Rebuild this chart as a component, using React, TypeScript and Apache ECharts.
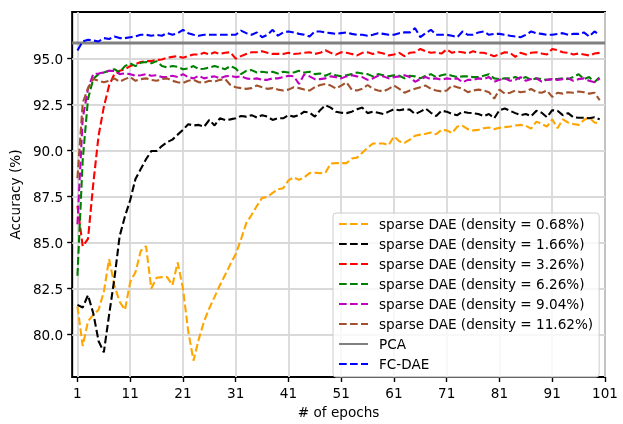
import React, { useEffect, useRef } from "react";
import * as echarts from "echarts";

const epochs: number[] = Array.from({ length: 100 }, (_, i) => i + 1);
const xTicks = [1, 11, 21, 31, 41, 51, 61, 71, 81, 91, 101];
const yTicks = [80, 82.5, 85, 87.5, 90, 92.5, 95];
const pcaAccuracy = 95.85;

const density068 = [
  81.52, 79.38, 80.72, 81.07, 81.34, 82.32, 84.1, 82.68, 81.78, 81.34,
  82.85, 83.39, 84.55, 84.81, 82.5, 83.09, 83.12, 83.12, 82.68, 83.92,
  82.5, 80.18, 78.58, 79.75, 80.72, 81.43, 82.05, 82.68, 83.25, 83.83,
  84.37, 85.17, 86.06, 86.5, 86.99, 87.43, 87.48, 87.7, 87.9, 87.96,
  88.38, 88.55, 88.41, 88.55, 88.78, 88.8, 88.78, 88.8, 89.3, 89.32,
  89.32, 89.32, 89.57, 89.62, 89.89, 90.16, 90.39, 90.39, 90.39, 90.3,
  90.78, 90.51, 90.42, 90.6, 90.81, 90.87, 90.92, 90.99, 90.89, 91.13,
  91.1, 90.96, 91.31, 91.35, 91.17, 91.1, 91.13, 91.22, 91.26, 91.17,
  91.24, 91.28, 91.31, 91.37, 91.4, 91.35, 91.2, 91.58, 91.45, 91.31,
  91.7, 91.22, 91.7, 91.53, 91.45, 91.4, 91.67, 91.81, 91.53, 91.49,
];
const density166 = [
  81.61, 81.47, 82.14, 81.16, 79.65, 79.03, 81.07, 83.03, 85.35, 86.42,
  87.31, 88.46, 89.0, 89.53, 89.98, 89.98, 90.25, 90.46, 90.6, 90.87,
  91.13, 91.44, 91.37, 91.4, 91.3, 91.67, 91.37, 91.76, 91.67, 91.7,
  91.76, 91.88, 91.85, 91.93, 91.8, 91.93, 91.85, 91.67, 91.76, 91.76,
  91.93, 91.85, 91.93, 92.12, 92.07, 91.85, 92.2, 92.47, 92.34, 92.12,
  92.06, 92.04, 92.12, 92.25, 92.34, 92.04, 92.12, 92.06, 91.99, 92.12,
  92.25, 92.2, 92.25, 92.23, 91.99, 92.12, 92.29, 92.06, 91.88, 92.17,
  92.12, 91.99, 91.93, 92.12, 92.06, 92.04, 91.99, 91.88, 91.99, 91.76,
  92.2, 92.29, 92.17, 92.04, 91.93, 91.99, 91.88, 92.17, 92.06, 91.82,
  92.2, 92.17, 91.93, 92.04, 91.82, 91.79, 91.79, 91.76, 91.82, 91.7,
];
const density326 = [
  87.0, 84.8, 85.2, 88.2, 90.8, 92.38, 93.54, 94.16, 94.34, 94.43,
  94.6, 94.7, 94.82, 94.87, 94.87, 94.93, 94.96, 95.05, 95.1, 95.14,
  95.05, 95.14, 95.23, 95.23, 95.32, 95.23, 95.35, 95.26, 95.32, 95.35,
  95.0, 95.14, 95.26, 95.35, 95.35, 95.41, 95.32, 95.26, 95.26, 95.26,
  95.32, 95.26, 95.28, 95.32, 95.35, 95.26, 95.32, 95.46, 95.32, 95.22,
  95.35, 95.32, 95.26, 95.18, 95.32, 95.35, 95.26, 95.35, 95.28, 95.18,
  95.23, 95.32, 95.14, 95.32, 95.35, 95.53, 95.41, 95.32, 95.35, 95.28,
  95.5, 95.32, 95.39, 95.35, 95.28, 95.41, 95.32, 95.32, 95.23, 95.14,
  95.23, 95.35, 95.32, 95.1, 95.32, 95.23, 95.32, 95.35, 95.28, 95.23,
  95.53, 95.46, 95.35, 95.32, 95.23, 95.28, 95.23, 95.18, 95.28, 95.32,
];
const density626 = [
  83.2, 89.5, 92.8, 93.9, 94.16, 94.25, 94.34, 94.43, 94.25, 94.6,
  94.75, 94.6, 94.78, 94.82, 94.75, 94.87, 94.6, 94.52, 94.6, 94.56,
  94.43, 94.47, 94.6, 94.43, 94.45, 94.52, 94.6, 94.52, 94.43, 94.6,
  94.47, 94.16, 94.34, 94.38, 94.25, 94.29, 94.25, 94.29, 94.2, 94.29,
  94.25, 94.25, 94.34, 94.25, 94.29, 94.16, 94.2, 94.07, 94.2, 94.1,
  94.04, 94.1, 94.16, 94.25, 94.2, 94.16, 94.04, 94.16, 94.1, 94.04,
  94.1, 94.07, 93.93, 94.07, 94.04, 93.93, 94.07, 94.16, 94.0, 94.1,
  94.16, 94.07, 94.0, 94.04, 94.04, 94.0, 94.0, 94.07, 94.16, 93.93,
  93.89, 93.93, 93.93, 94.0, 93.89, 94.0, 93.85, 93.93, 93.89, 93.85,
  93.89, 93.89, 93.93, 93.89, 94.0, 94.16, 93.89, 94.0, 93.72, 94.0,
];
const density904 = [
  86.0, 91.76, 93.36, 94.16, 94.2, 94.25, 94.34, 94.34, 94.16, 94.2,
  94.16, 94.07, 94.1, 94.16, 94.07, 94.1, 94.0, 94.0, 94.07, 94.0,
  94.16, 94.0, 93.93, 94.07, 93.93, 94.0, 94.04, 93.93, 94.04, 94.07,
  94.0, 94.04, 93.93, 93.89, 93.93, 93.85, 93.85, 93.93, 93.93, 94.0,
  94.07, 94.04, 93.63, 94.16, 94.04, 93.89, 93.89, 93.93, 94.04, 94.0,
  93.93, 94.04, 94.1, 94.04, 94.0, 93.85, 93.93, 94.07, 94.04, 93.93,
  94.0, 94.04, 94.1, 94.0, 93.75, 93.89, 94.0, 93.89, 93.93, 93.85,
  93.93, 93.89, 93.93, 93.72, 93.85, 93.85, 93.93, 93.89, 94.0, 93.75,
  93.85, 93.93, 93.8, 93.85, 94.0, 93.8, 93.89, 93.93, 93.75, 93.85,
  93.89, 93.85, 93.89, 93.93, 93.8, 93.89, 93.93, 93.8, 93.72, 93.93,
];
const density1162 = [
  88.5, 92.6, 93.4, 93.9, 93.8, 93.72, 93.8, 93.93, 93.75, 93.89,
  94.0, 93.8, 93.89, 93.93, 93.85, 93.8, 93.89, 93.93, 93.8, 93.72,
  93.68, 93.8, 93.85, 93.72, 93.7, 93.8, 93.75, 93.85, 93.89, 93.57,
  93.45, 93.4, 93.36, 93.4, 93.54, 93.45, 93.36, 93.4, 93.32, 93.27,
  93.32, 93.45, 93.4, 93.32, 93.27, 93.45, 93.57, 93.63, 93.54, 93.38,
  93.54, 93.72, 93.32, 93.27, 93.36, 93.57, 93.36, 93.27, 93.22, 93.36,
  93.54, 93.36, 93.15, 93.27, 93.36, 93.45, 93.54, 93.36, 93.27, 93.22,
  93.27, 93.54, 93.45, 93.36, 93.18, 93.27, 93.32, 93.27, 93.18, 92.83,
  93.32, 93.1, 93.15, 93.27, 93.18, 93.22, 93.36, 93.18, 93.15, 93.27,
  92.92, 93.15, 93.1, 93.18, 93.15, 93.22, 93.18, 93.1, 93.15, 92.74,
];
const fcDae = [
  95.45, 95.94, 96.03, 95.99, 95.94, 96.12, 96.07, 96.21, 96.12, 96.12,
  96.17, 96.21, 96.3, 96.3, 96.25, 96.3, 96.25, 96.39, 96.3, 96.39,
  96.57, 96.39, 96.3, 96.25, 96.3, 96.3, 96.3, 96.3, 96.3, 96.3,
  96.3, 96.53, 96.39, 96.3, 96.43, 96.17, 96.3, 96.57, 96.25, 96.43,
  96.48, 96.43, 96.35, 96.3, 96.21, 96.48, 96.48, 96.43, 96.39, 96.35,
  96.39, 96.43, 96.35, 96.3, 96.3, 96.25, 96.3, 96.39, 96.35, 96.3,
  96.3, 96.39, 96.43, 96.43, 96.66, 96.17, 96.39, 96.57, 96.3, 96.3,
  96.3, 96.25, 96.17, 96.48, 96.3, 96.3, 96.43, 96.48, 96.3, 96.35,
  96.35, 96.3, 96.25, 96.21, 96.17, 96.3, 96.48, 96.39, 96.35, 96.3,
  96.3, 96.35, 96.39, 96.3, 96.35, 96.35, 96.43, 96.21, 96.48, 96.3,
];

const FONT = "DejaVu Sans";
const FS = 13.6;

const dashedDefs = [
  { name: "sparse DAE (density = 0.68%)", color: "#ffa500", values: density068 },
  { name: "sparse DAE (density = 1.66%)", color: "#000000", values: density166 },
  { name: "sparse DAE (density = 3.26%)", color: "#ff0000", values: density326 },
  { name: "sparse DAE (density = 6.26%)", color: "#008000", values: density626 },
  { name: "sparse DAE (density = 9.04%)", color: "#bf00bf", values: density904 },
  { name: "sparse DAE (density = 11.62%)", color: "#a0522d", values: density1162 },
];

export default function App() {
  const ref = useRef<HTMLDivElement>(null);
  useEffect(() => {
    if (!ref.current) return;
    const chart = echarts.init(ref.current, undefined, { renderer: "svg" });
    const dashed = (name: string, color: string, values: number[]) => ({
      name,
      type: "line",
      data: epochs.map((e, i) => [e, values[i]]),
      symbol: "none",
      clip: true,
      lineStyle: { color, width: 2.1, type: [7.7, 3.3] },
      itemStyle: { color },
      emphasis: { disabled: true },
    });
    const series: any[] = dashedDefs.map((d) => dashed(d.name, d.color, d.values));
    series.push({
      name: "PCA",
      type: "line",
      data: [
        [0, pcaAccuracy],
        [101, pcaAccuracy],
      ],
      symbol: "none",
      lineStyle: { color: "#808080", width: 3, type: "solid" },
      itemStyle: { color: "#808080" },
      emphasis: { disabled: true },
    });
    series.push(dashed("FC-DAE", "#0000ff", fcDae));

    chart.setOption({
      animation: false,
      grid: {
        left: 71,
        right: 18,
        top: 12,
        bottom: 41,
        show: true,
        borderColor: "#000",
        borderWidth: 2,
        backgroundColor: "transparent",
      },
      xAxis: {
        type: "value",
        min: 0,
        max: 101,
        axisLine: { show: false },
        axisTick: {
          show: true,
          length: 5,
          customValues: xTicks,
          lineStyle: { color: "#000", width: 1.4 },
        },
        axisLabel: {
          customValues: xTicks,
          formatter: (v: number) => String(v),
          fontFamily: FONT,
          fontSize: FS,
          color: "#000",
          margin: 9,
        },
        splitLine: { show: true, lineStyle: { color: "#d9d9d9", width: 1.8 } },
        name: "# of epochs",
        nameLocation: "middle",
        nameGap: 28,
        nameTextStyle: { fontFamily: FONT, fontSize: FS, color: "#000" },
      },
      yAxis: {
        type: "value",
        min: 77.69,
        max: 97.54,
        axisLine: { show: false },
        axisTick: {
          show: true,
          length: 5,
          customValues: yTicks,
          lineStyle: { color: "#000", width: 1.4 },
        },
        axisLabel: {
          customValues: yTicks,
          formatter: (v: number) => v.toFixed(1),
          fontFamily: FONT,
          fontSize: FS,
          color: "#000",
          margin: 9,
        },
        splitLine: { show: true, lineStyle: { color: "#d9d9d9", width: 1.8 } },
        name: "Accuracy (%)",
        nameLocation: "middle",
        nameGap: 46,
        nameTextStyle: { fontFamily: FONT, fontSize: FS, color: "#000" },
      },
      legend: {
        orient: "vertical",
        left: 333,
        top: 213,
        itemWidth: 29,
        itemHeight: 14,
        itemGap: 6,
        padding: [4, 6, 6, 5],
        backgroundColor: "rgba(255,255,255,0.8)",
        borderColor: "#cccccc",
        borderWidth: 1,
        borderRadius: 3,
        selectedMode: false,
        itemStyle: { opacity: 0 },
        textStyle: {
          fontFamily: FONT,
          fontSize: FS,
          color: "#000",
          lineHeight: 14,
          padding: [0, 0, 0, 6],
        },
        data: [...dashedDefs.map((d) => d.name), "PCA", "FC-DAE"],
      },
      series,
    });
    return () => chart.dispose();
  }, []);
  return (
    <div
      ref={ref}
      style={{ position: "fixed", left: 0, top: 0, width: 623, height: 424 }}
    />
  );
}
